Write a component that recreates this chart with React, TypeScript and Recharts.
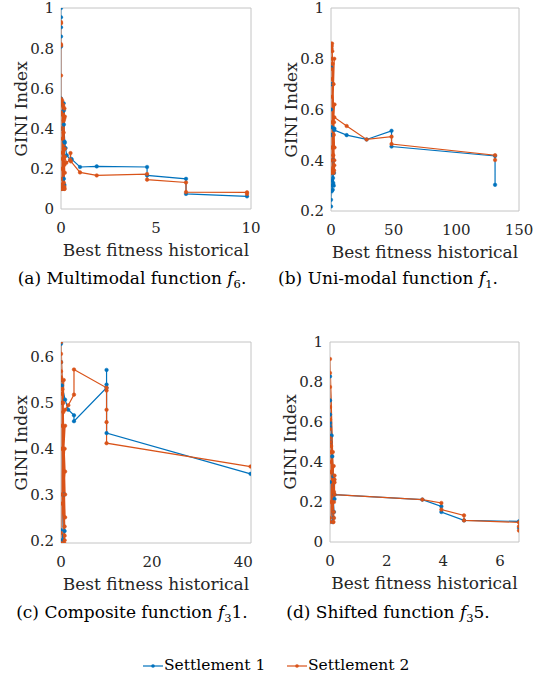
import { LineChart, Line, XAxis, YAxis } from 'recharts';

// MATLAB default colours
const BLUE = '#0072BD';
const ORANGE = '#D95319';
const INK = '#262626';
const BOX = '#c4c4c4';
const SERIF = "'DejaVu Serif', serif";

// (a) Multimodal function f6 — [best fitness, GINI]
const f6Settlement1: [number, number][] = [
  [9.79, 0.063], [6.58, 0.075], [6.58, 0.15], [4.53, 0.167], [4.53, 0.209], [1.88, 0.212],
  [1.0, 0.209], [0.56, 0.248], [0.5, 0.245], [0.3, 0.267], [0.24, 0.303], [0.18, 0.336],
  [0.2, 0.33], [0.15, 0.42], [0.15, 0.49], [0.14, 0.526], [0.05, 0.53], [0, 0.52],
  [0.15, 0.15], [0.04, 0.48], [0.18, 0.12], [0, 0.4], [0.1, 0.1], [0, 0.55],
  [0, 0.808], [0, 0.858], [0, 0.904], [0, 0.954], [0, 1.0],
];
const f6Settlement2: [number, number][] = [
  [9.79, 0.075], [9.79, 0.083], [6.58, 0.084], [6.58, 0.132], [4.53, 0.146], [4.53, 0.174],
  [1.88, 0.167], [1.0, 0.182], [0.52, 0.237], [0.5, 0.278], [0.48, 0.245], [0.28, 0.23],
  [0.2, 0.26], [0.16, 0.3], [0.14, 0.44], [0.08, 0.25], [0.02, 0.53], [0.16, 0.1],
  [0.18, 0.5], [0.03, 0.12], [0.2, 0.46], [0, 0.15], [0.12, 0.51], [0.18, 0.11],
  [0.01, 0.48], [0.2, 0.18], [0.06, 0.54], [0.15, 0.13], [0, 0.4], [0.19, 0.1],
  [0.08, 0.35], [0.02, 0.2], [0.17, 0.45], [0, 0.1], [0.1, 0.52], [0.2, 0.3],
  [0.04, 0.1], [0.14, 0.38], [0, 0.28], [0.18, 0.22], [0.06, 0.47], [0, 0.12],
  [0, 0.548], [0, 0.664], [0, 0.813], [0, 0.82], [0, 0.924], [0, 0.93],
];

// (b) Uni-modal function f1
const f1Settlement1: [number, number][] = [
  [130.9, 0.303], [130.9, 0.417], [48.3, 0.454], [48.3, 0.516], [28.4, 0.482], [12.5, 0.499],
  [2.65, 0.519], [2.65, 0.525], [0.5, 0.53], [0, 0.843], [0, 0.767], [2, 0.4],
  [0.4, 0.7], [2.4, 0.35], [0, 0.6], [1.6, 0.33], [0.2, 0.5], [2.2, 0.3],
  [0, 0.35], [1.8, 0.31], [0, 0.32], [1.4, 0.284], [0, 0.3], [0.6, 0.278],
  [0, 0.244], [0, 0.218],
];
const f1Settlement2: [number, number][] = [
  [130.9, 0.401], [130.9, 0.42], [48.3, 0.464], [48.3, 0.493], [28.4, 0.482], [12.5, 0.535],
  [2.65, 0.569], [2.4, 0.55], [0, 0.859], [1.8, 0.36], [0.6, 0.85], [2.6, 0.4],
  [0, 0.8], [2, 0.35], [1, 0.83], [2.8, 0.45], [0, 0.76], [1.6, 0.37],
  [0.4, 0.84], [2.2, 0.5], [0, 0.72], [2.6, 0.38], [0.8, 0.86], [1.8, 0.42],
  [0, 0.65], [2.4, 0.36], [1.2, 0.78], [0, 0.35], [2.8, 0.62], [0.2, 0.4],
  [2, 0.7], [0, 0.55], [2.6, 0.8], [0.6, 0.45], [0, 0.36],
];

// (c) Composite function f31
const f31Settlement1: [number, number][] = [
  [41.6, 0.345], [10, 0.434], [10, 0.572], [10, 0.54], [10, 0.533], [2.85, 0.46],
  [2.85, 0.473], [1.6, 0.485], [0.9, 0.507], [0.2, 0.538], [0, 0.629], [0, 0.589],
  [0.7, 0.3], [0.1, 0.55], [0.8, 0.22], [0, 0.5], [0.5, 0.2], [0, 0.222], [0, 0.2],
];
const f31Settlement2: [number, number][] = [
  [41.6, 0.361], [10, 0.412], [10, 0.458], [10, 0.485], [10, 0.527], [10, 0.533],
  [2.85, 0.573], [2.85, 0.518], [1.6, 0.495], [0.9, 0.485], [0.5, 0.48], [0, 0.633],
  [0, 0.607], [0, 0.589], [0, 0.569], [0, 0.556], [0.8, 0.2], [0.1, 0.55],
  [0.9, 0.25], [0, 0.5], [0.7, 0.194], [0.3, 0.53], [0.9, 0.3], [0, 0.45],
  [0.8, 0.21], [0.2, 0.52], [0.9, 0.35], [0, 0.216], [0.5, 0.5], [0.8, 0.23],
  [0.1, 0.4], [0.9, 0.45], [0, 0.28], [0.6, 0.55], [0.2, 0.3], [0.8, 0.4], [0, 0.194],
];

// (d) Shifted function f35
const f35Settlement1: [number, number][] = [
  [6.67, 0.07], [6.67, 0.103], [4.73, 0.108], [3.93, 0.15], [3.93, 0.178], [3.26, 0.212],
  [0.16, 0.237], [0.16, 0.215], [0.12, 0.328], [0.08, 0.428], [0.06, 0.532], [0, 0.828],
  [0, 0.708], [0, 0.637], [0, 0.595], [0, 0.575], [0.12, 0.12], [0.02, 0.5],
  [0.14, 0.15], [0, 0.3], [0.08, 0.1],
];
const f35Settlement2: [number, number][] = [
  [6.67, 0.057], [6.67, 0.078], [6.67, 0.098], [4.73, 0.108], [4.73, 0.133], [3.93, 0.162],
  [3.93, 0.195], [3.26, 0.212], [0.16, 0.237], [0.16, 0.298], [0.16, 0.312], [0.16, 0.332],
  [0.12, 0.31], [0, 0.915], [0, 0.845], [0, 0.775], [0, 0.675], [0, 0.612],
  [0, 0.565], [0, 0.52], [0.12, 0.1], [0.02, 0.5], [0.14, 0.12], [0, 0.45],
  [0.13, 0.15], [0.04, 0.48], [0.14, 0.2], [0, 0.4], [0.11, 0.1], [0.03, 0.35],
  [0.14, 0.25], [0, 0.1], [0.1, 0.45], [0.01, 0.2], [0.13, 0.38], [0, 0.12],
];

const toPoints = (arr: [number, number][]) => arr.map(([x, y]) => ({ x, y }));

interface Box { l: number; t: number; r: number; b: number }

interface PanelProps {
  box: Box;
  col: number;
  s1: [number, number][];
  s2: [number, number][];
  xDomain: [number, number];
  xTicks: number[];
  yDomain: [number, number];
  yTicks: number[];
}

function Panel({ box, col, s1, s2, xDomain, xTicks, yDomain, yTicks }: PanelProps) {
  const chartLeft = col === 0 ? 0 : 266;
  const chartW = col === 0 ? 266 : 267;
  const chartTop = Math.max(0, box.t - 12);
  const chartH = box.b - chartTop + 40;
  const yW = box.l - chartLeft;
  const mRight = chartLeft + chartW - box.r;
  const tickStyle = { fill: INK, fontSize: 15, fontFamily: SERIF };

  return (
    <div style={{ position: 'absolute', left: chartLeft, top: chartTop }}>
      <LineChart width={chartW} height={chartH} margin={{ top: box.t - chartTop, right: mRight, left: 0, bottom: 0 }}>
        <XAxis
          xAxisId="x" type="number" dataKey="x" domain={xDomain} ticks={xTicks} allowDataOverflow
          height={40} interval={0} tickLine={false} tickSize={8} tickMargin={5}
          axisLine={{ stroke: BOX }} tick={tickStyle}
        />
        <XAxis
          xAxisId="xb" type="number" domain={xDomain} ticks={xTicks} allowDataOverflow mirror
          height={10} interval={0} tick={false} tickSize={3} tickLine={{ stroke: BOX }} axisLine={false}
        />
        <XAxis
          xAxisId="xt" orientation="top" type="number" domain={xDomain} ticks={xTicks} allowDataOverflow mirror
          height={10} interval={0} tick={false} tickSize={3} tickLine={{ stroke: BOX }} axisLine={{ stroke: BOX }}
        />
        <YAxis
          yAxisId="y" type="number" domain={yDomain} ticks={yTicks} allowDataOverflow
          width={yW} interval={0} tickLine={false} tickSize={4} tickMargin={3}
          axisLine={{ stroke: BOX }} tick={tickStyle}
        />
        <YAxis
          yAxisId="yl" type="number" domain={yDomain} ticks={yTicks} allowDataOverflow mirror
          width={10} interval={0} tick={false} tickSize={3} tickLine={{ stroke: BOX }} axisLine={false}
        />
        <YAxis
          yAxisId="yr" orientation="right" type="number" domain={yDomain} ticks={yTicks} allowDataOverflow mirror
          width={10} interval={0} tick={false} tickSize={3} tickLine={{ stroke: BOX }} axisLine={{ stroke: BOX }}
        />
        <Line
          xAxisId="x" yAxisId="y" data={toPoints(s1)} dataKey="y" type="linear"
          stroke={BLUE} strokeWidth={1.2} dot={{ r: 1.8, fill: BLUE, stroke: BLUE, strokeWidth: 0.5 }}
          isAnimationActive={false}
        />
        <Line
          xAxisId="x" yAxisId="y" data={toPoints(s2)} dataKey="y" type="linear"
          stroke={ORANGE} strokeWidth={1.2} dot={{ r: 1.8, fill: ORANGE, stroke: ORANGE, strokeWidth: 0.5 }}
          isAnimationActive={false}
        />
      </LineChart>
      <div
        style={{
          position: 'absolute', left: (box.l + box.r) / 2 - chartLeft, top: box.b + 31 - chartTop,
          transform: 'translateX(-50%)', whiteSpace: 'nowrap', fontSize: 17, lineHeight: '21px', color: INK,
        }}
      >
        Best fitness historical
      </div>
      <div
        style={{
          position: 'absolute', left: box.l - 40 - chartLeft, top: (box.t + box.b) / 2 - chartTop,
          transform: 'translate(-50%, -50%) rotate(-90deg)', whiteSpace: 'nowrap', fontSize: 17,
          lineHeight: '21px', color: INK,
        }}
      >
        GINI Index
      </div>
    </div>
  );
}

function Caption({ cx, top, children }: { cx: number; top: number; children: React.ReactNode }) {
  return (
    <div
      style={{
        position: 'absolute', left: cx, top, transform: 'translateX(-50%)', whiteSpace: 'nowrap',
        fontSize: 17, lineHeight: '21px', color: '#000',
      }}
    >
      {children}
    </div>
  );
}

function LegendItem({ left, color, label }: { left: number; color: string; label: string }) {
  return (
    <div style={{ position: 'absolute', left, top: 655, display: 'flex', alignItems: 'center', height: 20 }}>
      <svg width={20} height={20} style={{ marginTop: 2 }}>
        <line x1={0} y1={10} x2={20} y2={10} stroke={color} strokeWidth={1.2} />
        <circle cx={10} cy={10} r={1.8} fill={color} />
      </svg>
      <span style={{ fontSize: 15.5, lineHeight: '20px', marginLeft: 1, color: '#000' }}>{label}</span>
    </div>
  );
}

const sub = { fontSize: 11.5, verticalAlign: '-4px', lineHeight: 0 };

export default function App() {
  return (
    <div
      style={{
        position: 'absolute', left: 0, top: 0, width: 533, height: 678, background: '#fff',
        fontFamily: SERIF, overflow: 'hidden',
      }}
    >
      <Panel box={{ l: 61, t: 8, r: 251, b: 209 }} col={0} s1={f6Settlement1} s2={f6Settlement2}
        xDomain={[0, 10]} xTicks={[0, 5, 10]} yDomain={[0, 1]} yTicks={[0, 0.2, 0.4, 0.6, 0.8, 1]} />
      <Panel box={{ l: 331, t: 8, r: 519, b: 211 }} col={1} s1={f1Settlement1} s2={f1Settlement2}
        xDomain={[0, 150]} xTicks={[0, 50, 100, 150]} yDomain={[0.2, 1]} yTicks={[0.2, 0.4, 0.6, 0.8, 1]} />
      <Panel box={{ l: 61, t: 342, r: 251, b: 543 }} col={0} s1={f31Settlement1} s2={f31Settlement2}
        xDomain={[0, 41.7]} xTicks={[0, 20, 40]} yDomain={[0.194, 0.633]} yTicks={[0.2, 0.3, 0.4, 0.5, 0.6]} />
      <Panel box={{ l: 330, t: 342, r: 519, b: 542 }} col={1} s1={f35Settlement1} s2={f35Settlement2}
        xDomain={[0, 6.67]} xTicks={[0, 2, 4, 6]} yDomain={[0, 1]} yTicks={[0, 0.2, 0.4, 0.6, 0.8, 1]} />

      <Caption cx={132} top={268}>(a) Multimodal function <i>f</i><sub style={sub}>6</sub>.</Caption>
      <Caption cx={388} top={268}>(b) Uni-modal function <i>f</i><sub style={sub}>1</sub>.</Caption>
      <Caption cx={132} top={602}>(c) Composite function <i>f</i><sub style={sub}>3</sub>1.</Caption>
      <Caption cx={388} top={602}>(d) Shifted function <i>f</i><sub style={sub}>3</sub>5.</Caption>

      <LegendItem left={143} color={BLUE} label="Settlement 1" />
      <LegendItem left={287} color={ORANGE} label="Settlement 2" />
    </div>
  );
}
